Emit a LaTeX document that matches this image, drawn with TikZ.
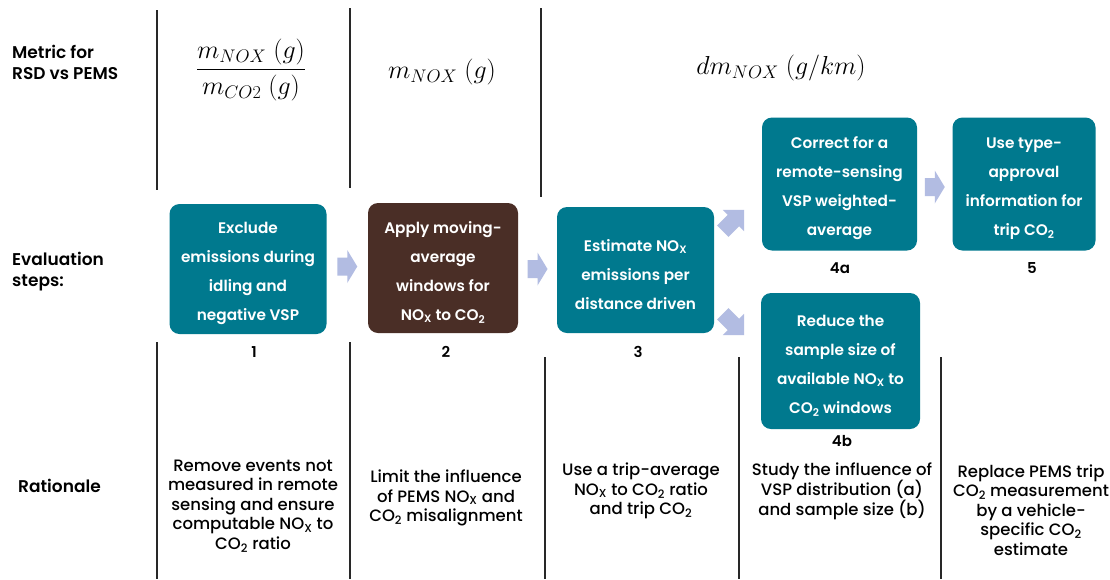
\RequirePackage{fix-cm}
\documentclass[tikz,border=0pt]{standalone}
\usepackage{amsmath}
\usepackage{fontspec}
\setmainfont{Poppins}
\newfontfamily\medfont{Poppins Medium}
\newfontfamily\semifont{Poppins SemiBold}
\usetikzlibrary{calc}
\definecolor{tealbox}{RGB}{0,121,142}
\definecolor{brownbox}{RGB}{74,46,38}
\definecolor{arrowc}{RGB}{178,188,226}
\definecolor{linec}{RGB}{40,40,40}
\newcommand\NOx{NO\textsubscript{X}}
\newcommand\COt{CO\textsubscript{2}}
\newcommand\topfix{\rule{0pt}{21pt}}
\begin{document}
\begin{tikzpicture}[x=1pt,y=-1pt,
  stepbox/.style={rounded corners=10pt, fill=tealbox, text=white, align=center,
    font=\semifont\fontsize{15.3}{29}\selectfont, inner sep=0pt},
  brownstep/.style={stepbox, fill=brownbox},
  numlbl/.style={font=\semifont\fontsize{15}{18}\selectfont, inner sep=0pt},
  ratio/.style={align=center, font=\medfont\fontsize{16.5}{19.5}\selectfont, inner sep=0pt},
  rowlbl/.style={align=left, anchor=west, font=\semifont\fontsize{17}{21}\selectfont, inner sep=0pt},
  mathlbl/.style={inner sep=0pt},
  vline/.style={draw=linec, line width=1.3pt},
  harrow/.pic={\fill[arrowc] (-10,-9) -- (0,-9) -- (0,-16.5) -- (10,0) -- (0,16.5) -- (0,9) -- (-10,9) -- cycle;},
  darrow/.pic={\fill[arrowc] (-13,-8) -- (2,-8) -- (2,-15) -- (17,0) -- (2,15) -- (2,8) -- (-13,8) -- cycle;}
]
\useasboundingbox (0,0) rectangle (1110,579);
\fill[white] (0,0) rectangle (1110,579);

% dividers
\draw[vline] (157,10) -- (157,190);
\draw[vline] (350,8) -- (350,188);
\draw[vline] (541,8) -- (541,197);
\draw[vline] (157,342) -- (157,579);
\draw[vline] (350,342) -- (350,579);
\draw[vline] (545,357) -- (545,579);
\draw[vline] (739,357) -- (739,579);
\draw[vline] (941,357) -- (941,579);

% row labels
\node[rowlbl] (metric) at (12,62) {Metric for\\RSD vs PEMS};
\node[rowlbl] (evalsteps) at (12,272) {Evaluation\\steps:};
\node[rowlbl] (rationale) at (18,486) {Rationale};

% metrics
\node[mathlbl] (m1) at (251,70) {\fontsize{26}{30}\selectfont$\dfrac{m_{NOX}\ (g)}{m_{CO2}\ (g)}$};
\node[mathlbl] (m2) at (442,72) {\fontsize{26}{30}\selectfont$m_{NOX}\ (g)$};
\node[mathlbl] (m3) at (781,68) {\fontsize{26}{30}\selectfont$dm_{NOX}\ (g/km)$};

% step boxes
\node[stepbox, minimum width=157pt, minimum height=130pt] (b1) at (248,269)
  {\topfix Exclude\\emissions during\\idling and\\negative VSP};
\node[brownstep, minimum width=150pt, minimum height=130pt] (b2) at (443,268)
  {\topfix Apply moving-\\average\\windows for\\\NOx{} to \COt};
\node[stepbox, minimum width=157pt, minimum height=126pt] (b3) at (635.5,270)
  {\topfix Estimate \NOx\\emissions per\\distance driven};
\node[stepbox, minimum width=155pt, minimum height=133pt] (b4a) at (839.5,184)
  {\topfix Correct for a\\remote-sensing\\VSP weighted-\\average};
\node[stepbox, minimum width=143pt, minimum height=133pt] (b5) at (1024,184)
  {\topfix Use type-\\approval\\information for\\trip \COt};
\node[stepbox, minimum width=159pt, minimum height=136pt] (b4b) at (840.5,361)
  {\topfix Reduce the\\sample size of\\available \NOx{} to\\\COt{} windows};

% step numbers
\node[numlbl] (n1) at (254,352) {1};
\node[numlbl] (n2) at (446,352) {2};
\node[numlbl] (n3) at (638,352) {3};
\node[numlbl] (n4a) at (840,268) {4a};
\node[numlbl] (n5) at (1032,268) {5};
\node[numlbl] (n4b) at (842,441) {4b};

% block arrows
\pic (a12) at ($(b1.east)!0.5!(b2.west)+(0,-2)$) {harrow};
\pic (a23) at ($(b2.east)!0.5!(b3.west)+(0,0)$) {harrow};
\pic[rotate=45] (a34a) at (732,222) {darrow};
\pic[rotate=-45] (a34b) at (732,323) {darrow};
\pic (a45) at ($(b4a.east)!0.5!(b5.west)+(0,3)$) {harrow};

% rationale texts
\node[ratio] (r1) at (253,506) {Remove events not\\measured in remote\\sensing and ensure\\computable \NOx{} to\\\COt{} ratio};
\node[ratio] (r2) at (446,498) {Limit the influence\\of PEMS \NOx{} and\\\COt{} misalignment};
\node[ratio] (r3) at (641,491) {Use a trip-average\\\NOx{} to \COt{} ratio\\and trip \COt};
\node[ratio] (r4) at (842,491) {Study the influence of\\VSP distribution (a)\\and sample size (b)};
\node[ratio] (r5) at (1031,510) {Replace PEMS trip\\\COt{} measurement\\by a vehicle-\\specific \COt\\estimate};
\end{tikzpicture}
\end{document}
